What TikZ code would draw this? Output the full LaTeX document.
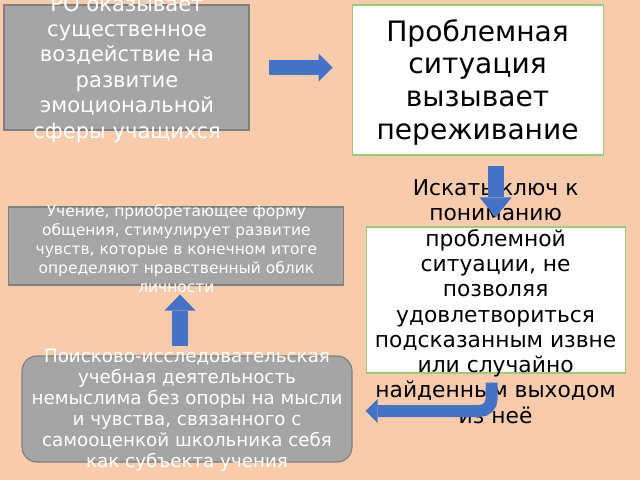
\documentclass[tikz,border=0pt]{standalone}
\usepackage{fontspec}
\setmainfont{DejaVu Sans}
\usetikzlibrary{arrows.meta}
\definecolor{peach}{HTML}{F8CBAD}
\definecolor{boxgray}{HTML}{A5A5A5}
\definecolor{boxedge}{HTML}{7F7F7F}
\definecolor{boxgreen}{HTML}{9DC97E}
\definecolor{arrowblue}{HTML}{4472C4}
\begin{document}
\begin{tikzpicture}[
    graybox/.style={draw=boxedge, fill=boxgray, line width=0.8pt},
    whitebox/.style={draw=boxgreen, fill=white, line width=0.8pt},
    lighttext/.style={text=white, align=center},
    darktext/.style={text=black, align=center},
    blockarrow/.style={draw=arrowblue, line cap=butt}
]
    \useasboundingbox (0,0) rectangle (16,-12);
    \fill[peach] (0,0) rectangle (16,-12);

    % boxes
    \node [graybox, minimum width=6.125cm, minimum height=3.125cm] (ro) at (3.1625,-1.6875){};
    \node [lighttext, font=\fontsize{15}{18.1}\selectfont] (rotext) at (3.175,-1.725){РО оказывает\\существенное\\воздействие на\\развитие\\эмоциональной\\сферы учащихся};

    \node [whitebox, minimum width=6.275cm, minimum height=3.75cm] (problem) at (11.94,-2.0){};
    \node [darktext, font=\fontsize{20}{23.4}\selectfont] (problemtext) at (11.94,-2.06){Проблемная\\ситуация\\вызывает\\переживание};

    \node [graybox, minimum width=8.375cm, minimum height=1.95cm] (feel) at (4.41,-6.15){};
    \node [lighttext, font=\fontsize{11}{13.5}\selectfont] (feeltext) at (4.41,-6.21){Учение, приобретающее форму\\общения, стимулирует развитие\\чувств, которые в конечном итоге\\определяют нравственный облик\\личности};

    \node [whitebox, minimum width=6.475cm, minimum height=3.65cm] (search) at (12.39,-7.5){};
    \node [darktext, font=\fontsize{15.5}{18}\selectfont] (searchtext) at (12.39,-7.54){Искать ключ к\\пониманию\\проблемной\\ситуации, не\\позволяя\\удовлетвориться\\подсказанным извне\\или случайно\\найденным выходом\\из неё};

    \node [graybox, rounded corners=0.375cm, minimum width=8.25cm, minimum height=2.65cm] (inquiry) at (4.675,-10.225){};
    \node [lighttext, font=\fontsize{13}{14.9}\selectfont] (inquirytext) at (4.675,-10.26){Поисково-исследовательская\\учебная деятельность\\немыслима без опоры на мысли\\и чувства, связанного с\\самооценкой школьника себя\\как субъекта учения};

    % arrows
    \draw [blockarrow, line width=0.375cm, -{Triangle[length=0.35cm,width=0.7cm,line width=0pt]}] ([xshift=0.475cm]ro.east) -- ([xshift=-0.475cm]ro.east -| problem.west);
    \draw [blockarrow, line width=0.4cm, -{Triangle[length=0.5cm,width=0.8cm,line width=0pt]}] ([yshift=-0.25cm]search.north |- problem.south) -- ([yshift=0.225cm]search.north);
    \draw [blockarrow, line width=0.4cm, -{Triangle[length=0.4cm,width=0.78cm,line width=0pt]}] ([xshift=0.09cm,yshift=0.225cm]inquiry.north -| feel.south) -- ([xshift=0.09cm,yshift=-0.225cm]feel.south);
    \draw [blockarrow, line width=0.3cm, rounded corners=0.3cm, -{Triangle[length=0.3cm,width=0.6cm,line width=0pt]}] ([xshift=-0.1cm,yshift=-0.225cm]search.south) |- ([yshift=-0.05cm]search.west |- inquiry.east);
\end{tikzpicture}
\end{document}
